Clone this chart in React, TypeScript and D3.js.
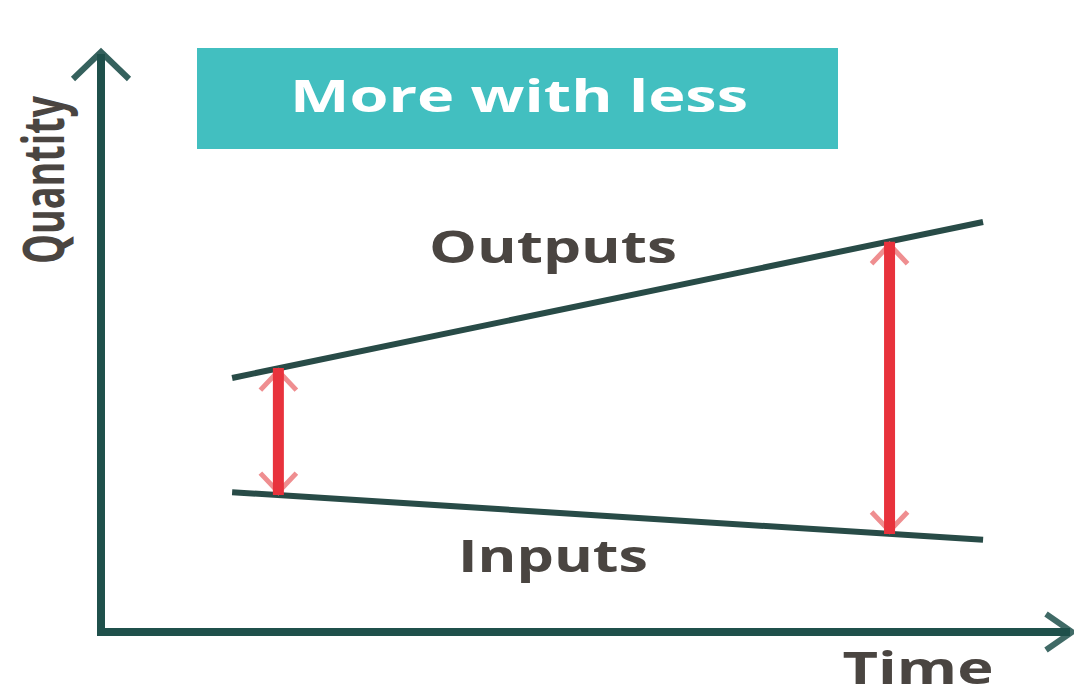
import React from "react";
import * as d3 from "d3";

// Time positions (0..100) and quantity values (0..100)
const lineTimes = [13.6, 91.5];
const outputValues = [43.8, 70.7];
const inputValues = [24.1, 15.9];

const arrowTimes = [18.4, 81.8];
const arrowTops = [45.5, 67.3];
const arrowBottoms = [23.6, 16.9];

const titleText = "More with less";
const outputsLabel = "Outputs";
const inputsLabel = "Inputs";
const xAxisLabel = "Time";
const yAxisLabel = "Quantity";

const W = 1074;
const H = 697;

export default function App() {
  const x = d3.scaleLinear().domain([0, 100]).range([101, 1065]);
  const y = d3.scaleLinear().domain([0, 100]).range([632, 52]);

  const line = d3
    .line<number>()
    .x((_, i) => x(lineTimes[i]))
    .y((d) => y(d));

  const axisColor = "#1f504b";
  const lineColor = "#284b47";
  const red = "#e8323c";
  const redHead = "#ec7a7c";
  const textColor = "#4a4541";

  const yTop = y(100);
  const xRight = x(100) + 7;
  const origin = { x: x(0), y: y(0) };

  return (
    <svg
      width={W}
      height={H}
      style={{ position: "absolute", left: 0, top: 0, background: "#ffffff" }}
    >
      <rect x={0} y={0} width={W} height={H} fill="#ffffff" />

      {/* axes */}
      <line x1={origin.x} y1={origin.y + 4} x2={origin.x} y2={yTop + 2} stroke={axisColor} strokeWidth={8} />
      <line x1={origin.x - 4} y1={origin.y} x2={xRight - 2} y2={origin.y} stroke={axisColor} strokeWidth={8} />
      <polyline
        points={`${origin.x - 28},${yTop + 27} ${origin.x},${yTop} ${origin.x + 28},${yTop + 27}`}
        fill="none"
        stroke={axisColor}
        strokeWidth={6}
        opacity={0.9}
      />
      <polyline
        points={`${xRight - 26},${origin.y - 18} ${xRight},${origin.y} ${xRight - 26},${origin.y + 18}`}
        fill="none"
        stroke={axisColor}
        strokeWidth={6}
        opacity={0.85}
      />

      {/* title box */}
      <rect x={197} y={48} width={641} height={101} fill="#42bfc0" />
      <text
        x={519}
        y={112}
        textAnchor="middle"
        fill="#ffffff"
        fontFamily="'Open Sans', sans-serif"
        fontWeight={700}
        fontSize={45}
        textLength={458}
        lengthAdjust="spacingAndGlyphs"
      >
        {titleText}
      </text>

      {/* series lines */}
      <path d={line(outputValues) || ""} fill="none" stroke={lineColor} strokeWidth={6} />
      <path d={line(inputValues) || ""} fill="none" stroke={lineColor} strokeWidth={6} />

      {/* gap arrows */}
      {arrowTimes.map((t, i) => {
        const ax = x(t);
        const top = y(arrowTops[i]);
        const bot = y(arrowBottoms[i]);
        return (
          <g key={i}>
            <polyline
              points={`${ax - 18},${top + 22} ${ax},${top + 3} ${ax + 18},${top + 22}`}
              fill="none"
              stroke={redHead}
              strokeWidth={5}
              opacity={0.85}
            />
            <polyline
              points={`${ax - 18},${bot - 22} ${ax},${bot - 3} ${ax + 18},${bot - 22}`}
              fill="none"
              stroke={redHead}
              strokeWidth={5}
              opacity={0.85}
            />
            <line x1={ax} y1={top} x2={ax} y2={bot} stroke={red} strokeWidth={11} />
          </g>
        );
      })}

      {/* labels */}
      <text
        x={553}
        y={263}
        textAnchor="middle"
        fill={textColor}
        fontFamily="'Open Sans', sans-serif"
        fontWeight={700}
        fontSize={45}
        textLength={248}
        lengthAdjust="spacingAndGlyphs"
      >
        {outputsLabel}
      </text>
      <text
        x={553}
        y={572}
        textAnchor="middle"
        fill={textColor}
        fontFamily="'Open Sans', sans-serif"
        fontWeight={700}
        fontSize={45}
        textLength={190}
        lengthAdjust="spacingAndGlyphs"
      >
        {inputsLabel}
      </text>
      <text
        x={918}
        y={684}
        textAnchor="middle"
        fill={textColor}
        fontFamily="'Open Sans', sans-serif"
        fontWeight={700}
        fontSize={44}
        textLength={151}
        lengthAdjust="spacingAndGlyphs"
      >
        {xAxisLabel}
      </text>
      <text
        transform={`translate(64,180) rotate(-90) scale(1,1.5)`}
        textAnchor="middle"
        fill={textColor}
        fontFamily="'Open Sans', sans-serif"
        fontWeight={700}
        fontSize={38}
        textLength={168}
        lengthAdjust="spacingAndGlyphs"
      >
        {yAxisLabel}
      </text>
    </svg>
  );
}
